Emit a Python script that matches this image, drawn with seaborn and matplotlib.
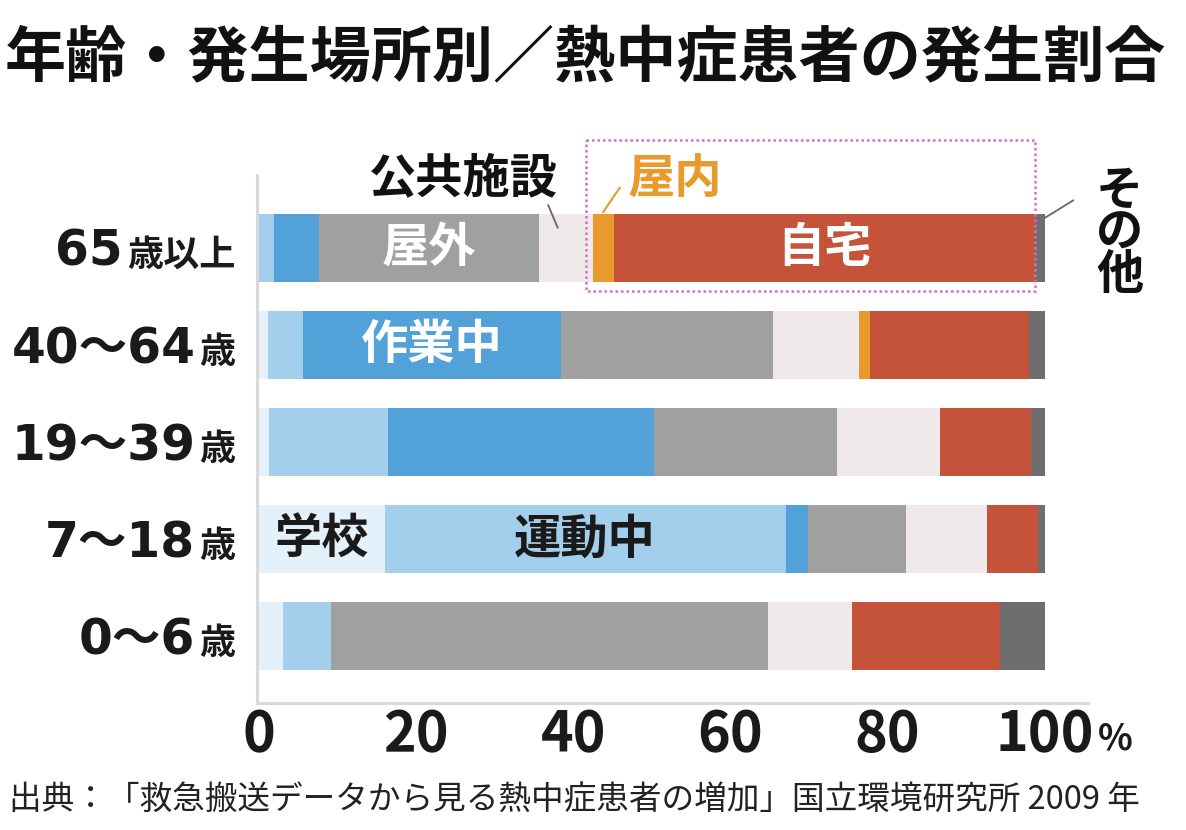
"""
年齢・発生場所別の熱中症患者の発生割合（100% 積み上げ横棒）。
"""

import matplotlib

matplotlib.use("Agg")

import matplotlib.pyplot as plt
import matplotlib.transforms as mtransforms
import pandas as pd
import seaborn as sns
from matplotlib.patches import Rectangle

JP = "Noto Sans CJK JP"

title = "年齢・発生場所別／熱中症患者の発生割合"
source = "出典：「救急搬送データから見る熱中症患者の増加」国立環境研究所 2009 年"

# 年齢区分（上から順）: 数字部分と「歳」部分は文字サイズが違う
age_num = ["65", "40～64", "19～39", "7～18", "0～6"]
age_unit = ["歳以上", "歳", "歳", "歳", "歳"]

places = ["学校", "運動中", "作業中", "屋外", "公共施設", "屋内", "自宅", "その他"]
place_colors = ["#e4f0fa", "#a3cfec", "#52a1d9", "#a0a0a0",
                "#efe9e9", "#e89a2c", "#c5533a", "#6e6e6e"]

# 発生割合 (%)，age_num と同じ順
school = [0.0, 1.1, 1.3, 16.0, 3.1]
sports = [1.9, 4.5, 15.1, 51.0, 6.1]
work = [5.7, 32.8, 33.8, 2.8, 0.0]
outdoor = [28.0, 27.0, 23.3, 12.5, 55.6]
public = [6.9, 10.9, 13.2, 10.4, 10.7]
indoor = [2.7, 1.5, 0.0, 0.0, 0.0]
home = [53.6, 20.2, 11.6, 6.4, 18.8]
other = [1.2, 2.0, 1.7, 0.9, 5.7]

xticks = [0, 20, 40, 60, 80, 100]

# 棒の中に書くラベル: (文字, 行, 区分, 色)
inner_labels = [
    ("屋外", 0, "屋外", "white"),
    ("自宅", 0, "自宅", "white"),
    ("作業中", 1, "作業中", "white"),
    ("学校", 3, "学校", "#1a1a1a"),
    ("運動中", 3, "運動中", "#1a1a1a"),
]

df = pd.DataFrame(
    dict(zip(places, [school, sports, work, outdoor, public, indoor, home, other])),
    index=age_num,
)
cum = df.cumsum(axis=1)
left = cum.shift(axis=1).fillna(0.0)
cum_long = cum.reset_index(names="age")

fig = plt.figure(figsize=(11.86, 8.30), dpi=100)
ax = fig.add_axes([0.2171, 0.1530, 0.7003, 0.6362])

# 累積値を後ろの区分から重ねて描く
for place, color in zip(reversed(places), reversed(place_colors)):
    sns.barplot(
        data=cum_long, x=place, y="age", orient="h", color=color,
        saturation=1, width=0.70, linewidth=0, errorbar=None, ax=ax,
    )

ax.set_xlim(-0.2, 105.5)
ax.set_ylim(4.686, -0.752)
ax.set(xlabel="", ylabel="")
ax.set_yticks([])
ax.set_xticks(xticks)
ax.set_xticklabels([str(t) for t in xticks], fontsize=40, fontweight="bold",
                   family=JP, color="#1a1a1a")
ax.tick_params(axis="x", length=0, pad=3)
for side in ["top", "right"]:
    ax.spines[side].set_visible(False)
for side in ["left", "bottom"]:
    ax.spines[side].set_color("#d9d9d9")
    ax.spines[side].set_linewidth(2.2)

# 棒の中のラベル
for text, row, place, color in inner_labels:
    xc = left.iloc[row][place] + df.iloc[row][place] / 2
    ax.text(xc, row, text, ha="center", va="center", color=color,
            fontsize=34, fontweight="bold", family=JP)

# 65歳以上の上に書くラベルと引き出し線
ax.text(26.0, -0.72, "公共施設", ha="center", va="center", color="#111111",
        fontsize=34, fontweight="bold", family=JP, clip_on=False)
ax.plot([36.8, 38.0], [-0.44, -0.21], color="#666666", lw=1.3, clip_on=False)

ax.text(52.9, -0.70, "屋内", ha="center", va="center", color="#e89a2c",
        fontsize=34, fontweight="bold", family=JP, clip_on=False)
ax.plot([43.8, 45.9], [-0.37, -0.62], color="#e89a2c", lw=1.5, clip_on=False)

ax.text(109.5, -0.16, "そ\nの\n他", ha="center", va="center", color="#111111",
        fontsize=34, fontweight="bold", family=JP, linespacing=0.85, clip_on=False)
ax.plot([100.0, 103.6], [-0.31, -0.49], color="#666666", lw=1.3, clip_on=False)

# 屋内＋自宅を囲む点線枠
box_left = left.iloc[0]["屋内"] - 0.9
box_right = cum.iloc[0]["自宅"]
ax.add_patch(Rectangle((box_left, -1.11), box_right - box_left, 1.553, fill=False,
                       edgecolor="#d36fc9", lw=1.8, linestyle=(0, (1, 1.2)),
                       clip_on=False))

# 年齢ラベル（数字は大きく、「歳」は小さく）
fig.canvas.draw()
renderer = fig.canvas.get_renderer()
for i, (num, unit) in enumerate(zip(age_num, age_unit)):
    tr = mtransforms.offset_copy(ax.get_yaxis_transform(), fig=fig,
                                 x=-22, y=-18, units="dots")
    t_unit = ax.text(0, i, unit, transform=tr, ha="right", va="baseline",
                     fontsize=26, fontweight="bold", family=JP, color="#1a1a1a")
    w = t_unit.get_window_extent(renderer).width
    tr_big = mtransforms.offset_copy(ax.get_yaxis_transform(), fig=fig,
                                     x=-22 - w - 4, y=-18, units="dots")
    ax.text(0, i, num, transform=tr_big, ha="right", va="baseline",
            fontsize=35, fontweight="bold", family=["DejaVu Sans", JP], color="#1a1a1a")

# 目盛り 100 の後ろに小さい「%」
bb = ax.get_xticklabels()[-1].get_window_extent(renderer)
fig.text(bb.x1 + 4, bb.y0 + 6, "%", transform=mtransforms.IdentityTransform(),
         ha="left", va="bottom", fontsize=26, fontweight="bold", family=JP,
         color="#1a1a1a")

fig.text(0.004, 0.928, title, ha="left", va="center", fontsize=44,
         fontweight="bold", family=JP, color="#111111")
fig.text(0.008, 0.036, source, ha="left", va="center", fontsize=23.5,
         family=JP, color="#222222")

fig.savefig("out.png", dpi=100)
